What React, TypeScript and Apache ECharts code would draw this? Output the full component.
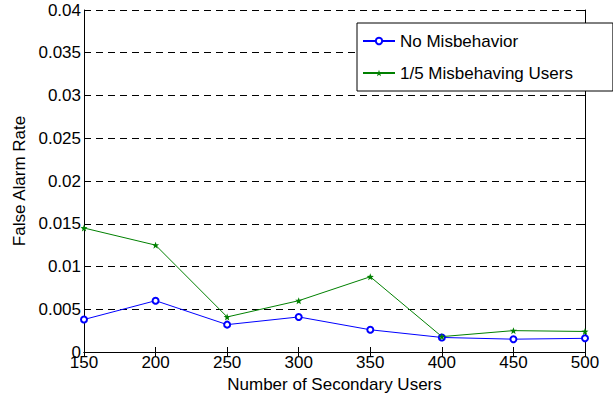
import React, { useEffect, useRef } from "react";
import * as echarts from "echarts";

const users = [150, 200, 250, 300, 350, 400, 450, 500];
const noMisbehavior = [0.0038, 0.006, 0.0032, 0.0041, 0.0026, 0.0017, 0.0015, 0.0016];
const misbehaving = [0.0145, 0.0125, 0.0041, 0.006, 0.0088, 0.0018, 0.0025, 0.0024];
const seriesNames = ["No Misbehavior", "1/5 Misbehaving Users"];
const xTitle = "Number of Secondary Users";
const yTitle = "False Alarm Rate";

const FONT = "'Liberation Sans', Arial, Helvetica, sans-serif";
const STAR =
  "path://M0,-10 L2.4,-3.3 L9.5,-3.1 L3.9,1.3 L5.9,8.1 L0,4.1 L-5.9,8.1 L-3.9,1.3 L-9.5,-3.1 L-2.4,-3.3 Z";

export default function App() {
  const ref = useRef<HTMLDivElement>(null);
  useEffect(() => {
    if (!ref.current) return;
    const chart = echarts.init(ref.current, undefined, { renderer: "svg" });
    const axisLine = { show: true, lineStyle: { color: "#000", width: 1 } };
    const tick = { show: true, inside: true, length: 5, lineStyle: { color: "#000" } };
    chart.setOption({
      animation: false,
      backgroundColor: "#fff",
      textStyle: { fontFamily: FONT },
      grid: { left: 84, right: 28, top: 10, bottom: 41, outerBoundsMode: "none", containLabel: false },
      legend: {
        orient: "vertical",
        left: 357,
        top: 23,
        width: 223,
        padding: [9, 40, 9, 5],
        itemGap: 14,
        itemWidth: 32,
        itemHeight: 8,
        backgroundColor: "#fff",
        borderColor: "#000",
        borderWidth: 1,
        borderRadius: 0,
        textStyle: { fontFamily: FONT, fontSize: 17, color: "#000", lineHeight: 18 },
        data: seriesNames,
      },
      xAxis: [
        {
          type: "value",
          min: 150,
          max: 500,
          interval: 50,
          name: xTitle,
          nameLocation: "middle",
          nameGap: 22,
          nameTextStyle: { fontFamily: FONT, fontSize: 17, color: "#000" },
          axisLine,
          axisTick: tick,
          axisLabel: { fontFamily: FONT, fontSize: 17, color: "#000", margin: 2 },
          splitLine: { show: false },
        },
        {
          type: "value",
          position: "top",
          min: 150,
          max: 500,
          interval: 50,
          axisLine,
          axisTick: tick,
          axisLabel: { show: false },
          splitLine: { show: false },
        },
      ],
      yAxis: [
        {
          type: "value",
          min: 0,
          max: 0.04,
          interval: 0.005,
          name: yTitle,
          nameLocation: "middle",
          nameGap: 53,
          nameTextStyle: { fontFamily: FONT, fontSize: 17, color: "#000" },
          axisLine,
          axisTick: tick,
          axisLabel: { fontFamily: FONT, fontSize: 17, color: "#000", margin: 3 },
          splitLine: { show: true, lineStyle: { color: "#000", type: [7, 5], width: 1 } },
        },
        {
          type: "value",
          position: "right",
          min: 0,
          max: 0.04,
          interval: 0.005,
          axisLine,
          axisTick: tick,
          axisLabel: { show: false },
          splitLine: { show: false },
        },
      ],
      series: [
        {
          name: seriesNames[0],
          type: "line",
          data: users.map((u, i) => [u, noMisbehavior[i]]),
          symbol: "emptyCircle",
          symbolSize: 6,
          color: "#0000ff",
          lineStyle: { width: 1, color: "#0000ff" },
          itemStyle: { color: "#0000ff", borderColor: "#0000ff", borderWidth: 1 },
        },
        {
          name: seriesNames[1],
          type: "line",
          data: users.map((u, i) => [u, misbehaving[i]]),
          symbol: STAR,
          symbolSize: 7,
          color: "#008000",
          lineStyle: { width: 1, color: "#008000" },
          itemStyle: { color: "#008000" },
        },
      ],
    });
    return () => chart.dispose();
  }, []);
  return <div ref={ref} style={{ width: 613, height: 393, position: "absolute", left: 0, top: 0 }} />;
}
